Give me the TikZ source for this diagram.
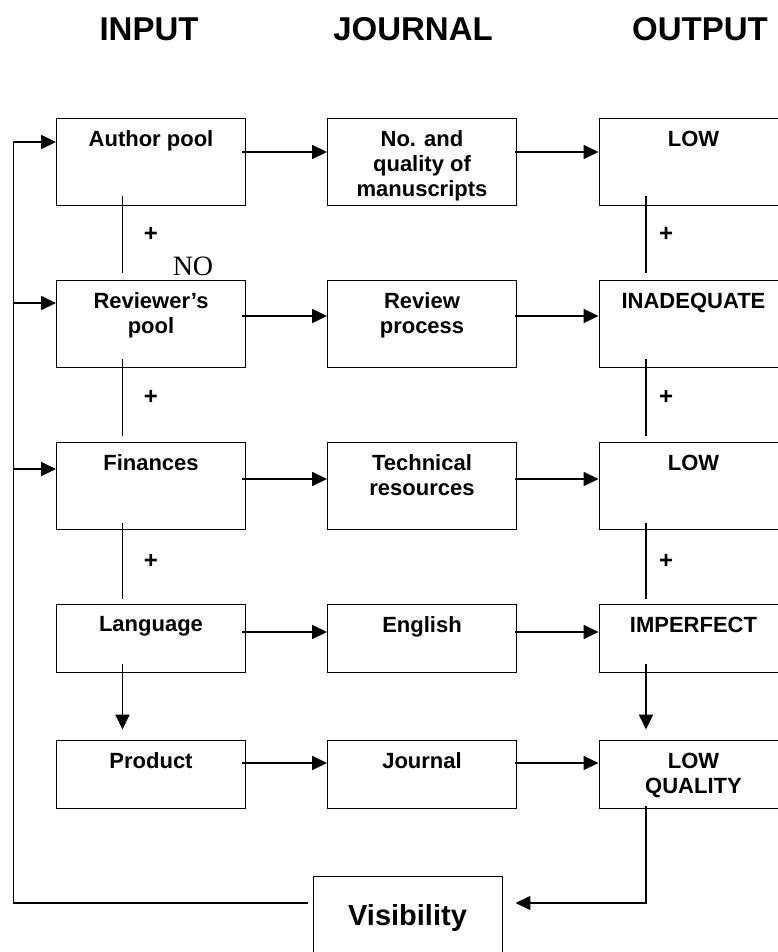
\documentclass[tikz,border=0pt]{standalone}
\usepackage{fontspec}
\setmainfont{Liberation Sans}
\newfontfamily\timesfont{Liberation Serif}
\usetikzlibrary{arrows.meta,positioning}

\begin{document}
\begin{tikzpicture}[x=1pt,y=1pt,
  box/.style={draw,line width=0.9pt,minimum width=189pt,minimum height=87pt,inner sep=0pt},
  sbox/.style={box,minimum height=68pt},
  txt/.style={anchor=north,align=center,inner sep=0pt,yshift=-13pt,font=\bfseries\fontsize{22}{25}\selectfont},
  head/.style={font=\bfseries\fontsize{33}{38}\selectfont},
  arr/.style={line width=1.6pt,-{Triangle[length=15pt,width=14pt]}},
  ln/.style={line width=1.6pt},
  plus/.style={font=\bfseries\fontsize{24}{26}\selectfont}]
  \useasboundingbox (0,0) rectangle (778,-952);
  \clip (0,0) rectangle (778,-952);
  % headings
  \node[head] (hin) at (149,-29) {INPUT};
  \node[head] (hjo) at (413,-29) {JOURNAL};
  \node[head] (hout) at (700,-29) {OUTPUT};
  % boxes
  \node[box,label={[txt]north:Author pool}] (ap) at (151,-161.5) {};
  \node[box,label={[txt]north:{No. and\\quality of\\manuscripts}}] (nq) at (422,-161.5) {};
  \node[box,label={[txt]north:LOW}] (o1) at (693.5,-161.5) {};
  \node[box,label={[txt]north:{Reviewer’s\\pool}}] (rp) at (151,-323.5) {};
  \node[box,label={[txt]north:{Review\\process}}] (rv) at (422,-323.5) {};
  \node[box,label={[txt]north:INADEQUATE}] (o2) at (693.5,-323.5) {};
  \node[box,label={[txt]north:Finances}] (fin) at (151,-485.5) {};
  \node[box,label={[txt]north:{Technical\\resources}}] (tech) at (422,-485.5) {};
  \node[box,label={[txt]north:LOW}] (o3) at (693.5,-485.5) {};
  \node[sbox,label={[txt]north:Language}] (lang) at (151,-638) {};
  \node[sbox,label={[txt]north:English}] (eng) at (422,-638) {};
  \node[sbox,label={[txt]north:IMPERFECT}] (o4) at (693.5,-638) {};
  \node[sbox,label={[txt]north:Product}] (prod) at (151,-774) {};
  \node[sbox,label={[txt]north:Journal}] (jour) at (422,-774) {};
  \node[sbox,label={[txt]north:{LOW\\QUALITY}}] (o5) at (693.5,-774) {};
  \node[box,minimum height=84pt,font=\bfseries\fontsize{29}{34}\selectfont] (vis) at (407.5,-918) {Visibility};
  \node[font=\timesfont\fontsize{28}{30}\selectfont,inner sep=0pt] (no) at (193,-266) {NO};
  % rows
  \path[arr]
    ([shift={(-4,9.5)}]ap.east) edge ([yshift=9.5]nq.west)
    ([shift={(-2,9.5)}]nq.east) edge ([yshift=9.5]o1.west)
    ([shift={(-4,7.5)}]rp.east) edge ([yshift=7.5]rv.west)
    ([shift={(-2,7.5)}]rv.east) edge ([yshift=7.5]o2.west)
    ([shift={(-4,6.5)}]fin.east) edge ([yshift=6.5]tech.west)
    ([shift={(-2,6.5)}]tech.east) edge ([yshift=6.5]o3.west)
    ([shift={(-4,6)}]lang.east) edge ([yshift=6]eng.west)
    ([shift={(-2,6)}]eng.east) edge ([yshift=6]o4.west)
    ([shift={(-4,11)}]prod.east) edge ([yshift=11]jour.west)
    ([shift={(-2,11)}]jour.east) edge ([yshift=11]o5.west);
  % plus links
  \path[ln]
    ([shift={(-28.5,9)}]ap.south) edge node[plus,xshift=28.5] {+} ([shift={(-28.5,7)}]rp.north)
    ([shift={(-28.5,8)}]rp.south) edge node[plus,xshift=28.5] {+} ([shift={(-28.5,6)}]fin.north)
    ([shift={(-28.5,6)}]fin.south) edge node[plus,xshift=28.5] {+} ([shift={(-28.5,5)}]lang.north)
    ([shift={(-47.5,9)}]o1.south) edge node[plus,xshift=20] {+} ([shift={(-47.5,7)}]o2.north)
    ([shift={(-47.5,8)}]o2.south) edge node[plus,xshift=20] {+} ([shift={(-47.5,6)}]o3.north)
    ([shift={(-47.5,6)}]o3.south) edge node[plus,xshift=20] {+} ([shift={(-47.5,5)}]o4.north);
  \path[arr]
    ([shift={(-28.5,8)}]lang.south) edge ([shift={(-28.5,10)}]prod.north)
    ([shift={(-47.5,8)}]o4.south) edge ([shift={(-47.5,10)}]o5.north);
  % feedback
  \draw[arr] ([shift={(-47.5,2)}]o5.south) |- ([shift={(13,15)}]vis.east);
  \coordinate (fb) at (13.5,-903);
  \coordinate (fb2) at (13.5,-303);
  \coordinate (fb3) at (13.5,-469);
  \draw[arr] ([shift={(-5,15)}]vis.west) -- (fb) |- ([yshift=19.5]ap.west);
  \path[arr]
    (fb2) edge ([yshift=20.5]rp.west)
    (fb3) edge ([yshift=16.5]fin.west);
\end{tikzpicture}
\end{document}
